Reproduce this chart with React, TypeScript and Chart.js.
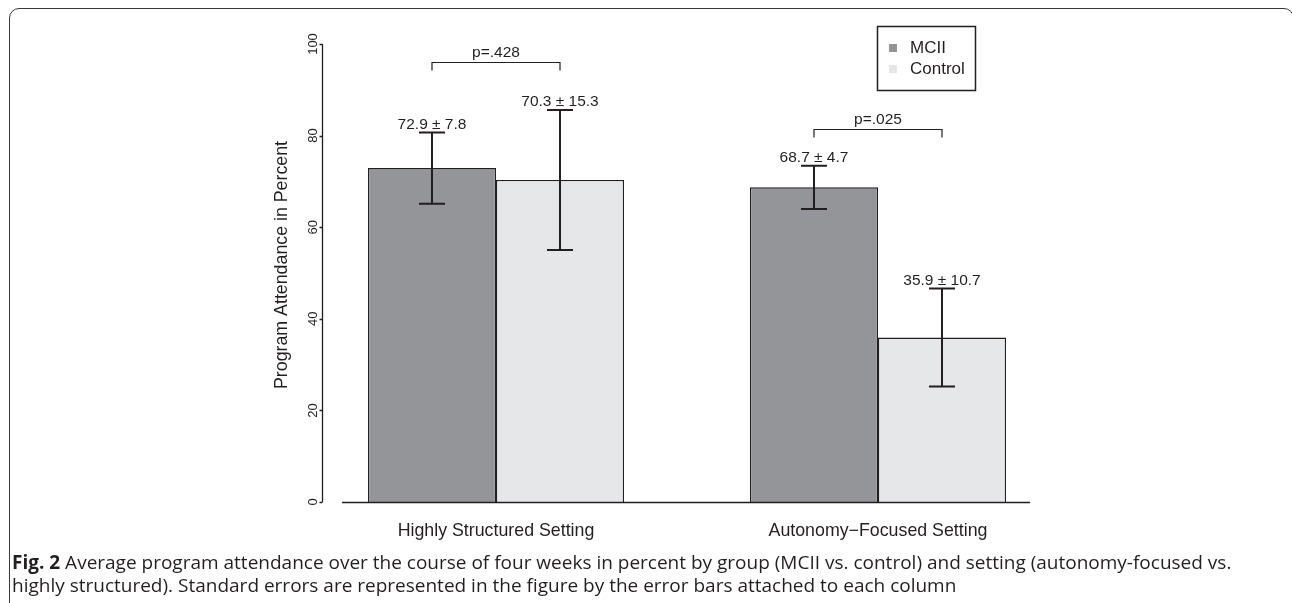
import React, { useEffect, useRef } from "react";
import { Chart, registerables } from "chart.js";

Chart.register(...registerables);

const categories = ["Highly Structured Setting", "Autonomy\u2212Focused Setting"];
const seriesNames = ["MCII", "Control"];
const mciiValues = [72.9, 68.7];
const controlValues = [70.3, 35.9];
const mciiErrors = [7.8, 4.7];
const controlErrors = [15.3, 10.7];
const pLabels = ["p=.428", "p=.025"];
const bracketLevels = [96.1, 81.4];
const yTicks = [0, 20, 40, 60, 80, 100];
const yTitle = "Program Attendance in Percent";
const captionBold = "Fig. 2";
const captionLine1 =
  " Average program attendance over the course of four weeks in percent by group (MCII vs. control) and setting (autonomy-focused vs.";
const captionLine2 =
  "highly structured). Standard errors are represented in the figure by the error bars attached to each column";

const INK = "#231f20";
const COLORS = ["#939598", "#e6e7e8"];
const FONT = "'Liberation Sans', Arial, Helvetica, sans-serif";

const overlay = {
  id: "overlay",
  afterDatasetsDraw(chart: any) {
    const ctx = chart.ctx as CanvasRenderingContext2D;
    const ys = chart.scales.y;
    const vals = [mciiValues, controlValues];
    const errs = [mciiErrors, controlErrors];
    ctx.save();
    ctx.strokeStyle = INK;
    ctx.fillStyle = INK;

    // error bars + value labels
    for (let di = 0; di < 2; di++) {
      const meta = chart.getDatasetMeta(di);
      meta.data.forEach((bar: any, i: number) => {
        const cx = bar.x;
        const v = vals[di][i];
        const e = errs[di][i];
        const yt = ys.getPixelForValue(v + e);
        const yb = ys.getPixelForValue(v - e);
        ctx.lineWidth = 2;
        ctx.beginPath();
        ctx.moveTo(cx, yt);
        ctx.lineTo(cx, yb);
        ctx.moveTo(cx - 13, yt);
        ctx.lineTo(cx + 13, yt);
        ctx.moveTo(cx - 13, yb);
        ctx.lineTo(cx + 13, yb);
        ctx.stroke();
        ctx.font = `15.5px ${FONT}`;
        ctx.textAlign = "center";
        ctx.textBaseline = "alphabetic";
        ctx.fillText(`${v.toFixed(1)} \u00b1 ${e.toFixed(1)}`, cx, yt - 3.5);
      });
    }

    // significance brackets
    const m0 = chart.getDatasetMeta(0);
    const m1 = chart.getDatasetMeta(1);
    for (let i = 0; i < categories.length; i++) {
      const x0 = m0.data[i].x;
      const x1 = m1.data[i].x;
      const by = Math.round(ys.getPixelForValue(bracketLevels[i])) + 0.5;
      ctx.lineWidth = 1.2;
      ctx.beginPath();
      ctx.moveTo(x0, by + 8);
      ctx.lineTo(x0, by);
      ctx.lineTo(x1, by);
      ctx.lineTo(x1, by + 8);
      ctx.stroke();
      ctx.font = `15.5px ${FONT}`;
      ctx.textAlign = "center";
      ctx.textBaseline = "alphabetic";
      ctx.fillText(pLabels[i], (x0 + x1) / 2, by - 5.5);
    }

    // y axis
    const axX = 322.5;
    const y0 = ys.getPixelForValue(0);
    const y100 = ys.getPixelForValue(100);
    ctx.lineWidth = 1.3;
    ctx.beginPath();
    ctx.moveTo(axX, y0);
    ctx.lineTo(axX, y100);
    yTicks.forEach((t) => {
      const ty = Math.round(ys.getPixelForValue(t)) + 0.5;
      ctx.moveTo(axX, ty);
      ctx.lineTo(axX - 3, ty);
    });
    ctx.stroke();
    ctx.font = `13px ${FONT}`;
    yTicks.forEach((t) => {
      const ty = ys.getPixelForValue(t);
      ctx.save();
      ctx.translate(313, ty);
      ctx.rotate(-Math.PI / 2);
      ctx.textAlign = "center";
      ctx.textBaseline = "middle";
      ctx.fillText(String(t), 0, 0);
      ctx.restore();
    });

    // y title
    ctx.save();
    ctx.translate(282, 265);
    ctx.rotate(-Math.PI / 2);
    ctx.font = `17.8px ${FONT}`;
    ctx.textAlign = "center";
    ctx.textBaseline = "middle";
    ctx.fillText(yTitle, 0, 0);
    ctx.restore();

    // x axis line
    ctx.lineWidth = 1.3;
    ctx.beginPath();
    ctx.moveTo(342, Math.round(y0) + 0.5);
    ctx.lineTo(1030, Math.round(y0) + 0.5);
    ctx.stroke();

    // category labels
    const xs = chart.scales.x;
    ctx.font = `17.8px ${FONT}`;
    ctx.textAlign = "center";
    ctx.textBaseline = "middle";
    categories.forEach((c, i) => {
      ctx.fillText(c, xs.getPixelForValue(i), 531);
    });

    // legend
    ctx.lineWidth = 1.5;
    ctx.strokeRect(877.5, 26.5, 98, 64);
    ctx.font = `17px ${FONT}`;
    ctx.textAlign = "left";
    ctx.textBaseline = "middle";
    seriesNames.forEach((n, i) => {
      const cy = 48 + i * 21;
      ctx.fillStyle = COLORS[i];
      ctx.fillRect(889, cy - 4, 8, 8);
      ctx.fillStyle = INK;
      ctx.fillText(n, 910, cy);
    });

    ctx.restore();
  },
};

export default function App() {
  const ref = useRef<HTMLCanvasElement>(null);
  useEffect(() => {
    const chart = new Chart(ref.current as HTMLCanvasElement, {
      type: "bar",
      data: {
        labels: categories,
        datasets: [
          {
            label: seriesNames[0],
            data: mciiValues,
            backgroundColor: COLORS[0],
            borderColor: INK,
            borderWidth: 1.3,
            categoryPercentage: 0.6702,
            barPercentage: 1,
          },
          {
            label: seriesNames[1],
            data: controlValues,
            backgroundColor: COLORS[1],
            borderColor: INK,
            borderWidth: 1.3,
            categoryPercentage: 0.6702,
            barPercentage: 1,
          },
        ],
      },
      options: {
        responsive: false,
        animation: false,
        layout: { padding: { left: 305, right: 223, top: 44, bottom: 101 } },
        scales: {
          x: { display: false },
          y: { display: false, min: 0, max: 100 },
        },
        plugins: {
          legend: { display: false },
          tooltip: { enabled: false },
        },
      },
      plugins: [overlay],
    });
    return () => chart.destroy();
  }, []);

  return (
    <div
      style={{
        position: "fixed",
        left: 0,
        top: 0,
        width: 1292,
        height: 603,
        background: "#fff",
        overflow: "hidden",
      }}
    >
      <div
        style={{
          position: "absolute",
          left: 9,
          top: 7.5,
          width: 1285,
          height: 700,
          border: "1.5px solid #3a3a3a",
          borderRadius: 10,
          boxSizing: "border-box",
        }}
      />
      <canvas
        ref={ref}
        width={1292}
        height={603}
        style={{ position: "absolute", left: 0, top: 0, width: 1292, height: 603 }}
      />
      <div
        style={{
          position: "absolute",
          left: 12,
          top: 551,
          fontFamily: "'Open Sans', sans-serif",
          fontSize: 19,
          lineHeight: "23px",
          color: INK,
          whiteSpace: "nowrap",
        }}
      >
        <b>{captionBold}</b>
        {captionLine1}
        <br />
        {captionLine2}
      </div>
    </div>
  );
}
